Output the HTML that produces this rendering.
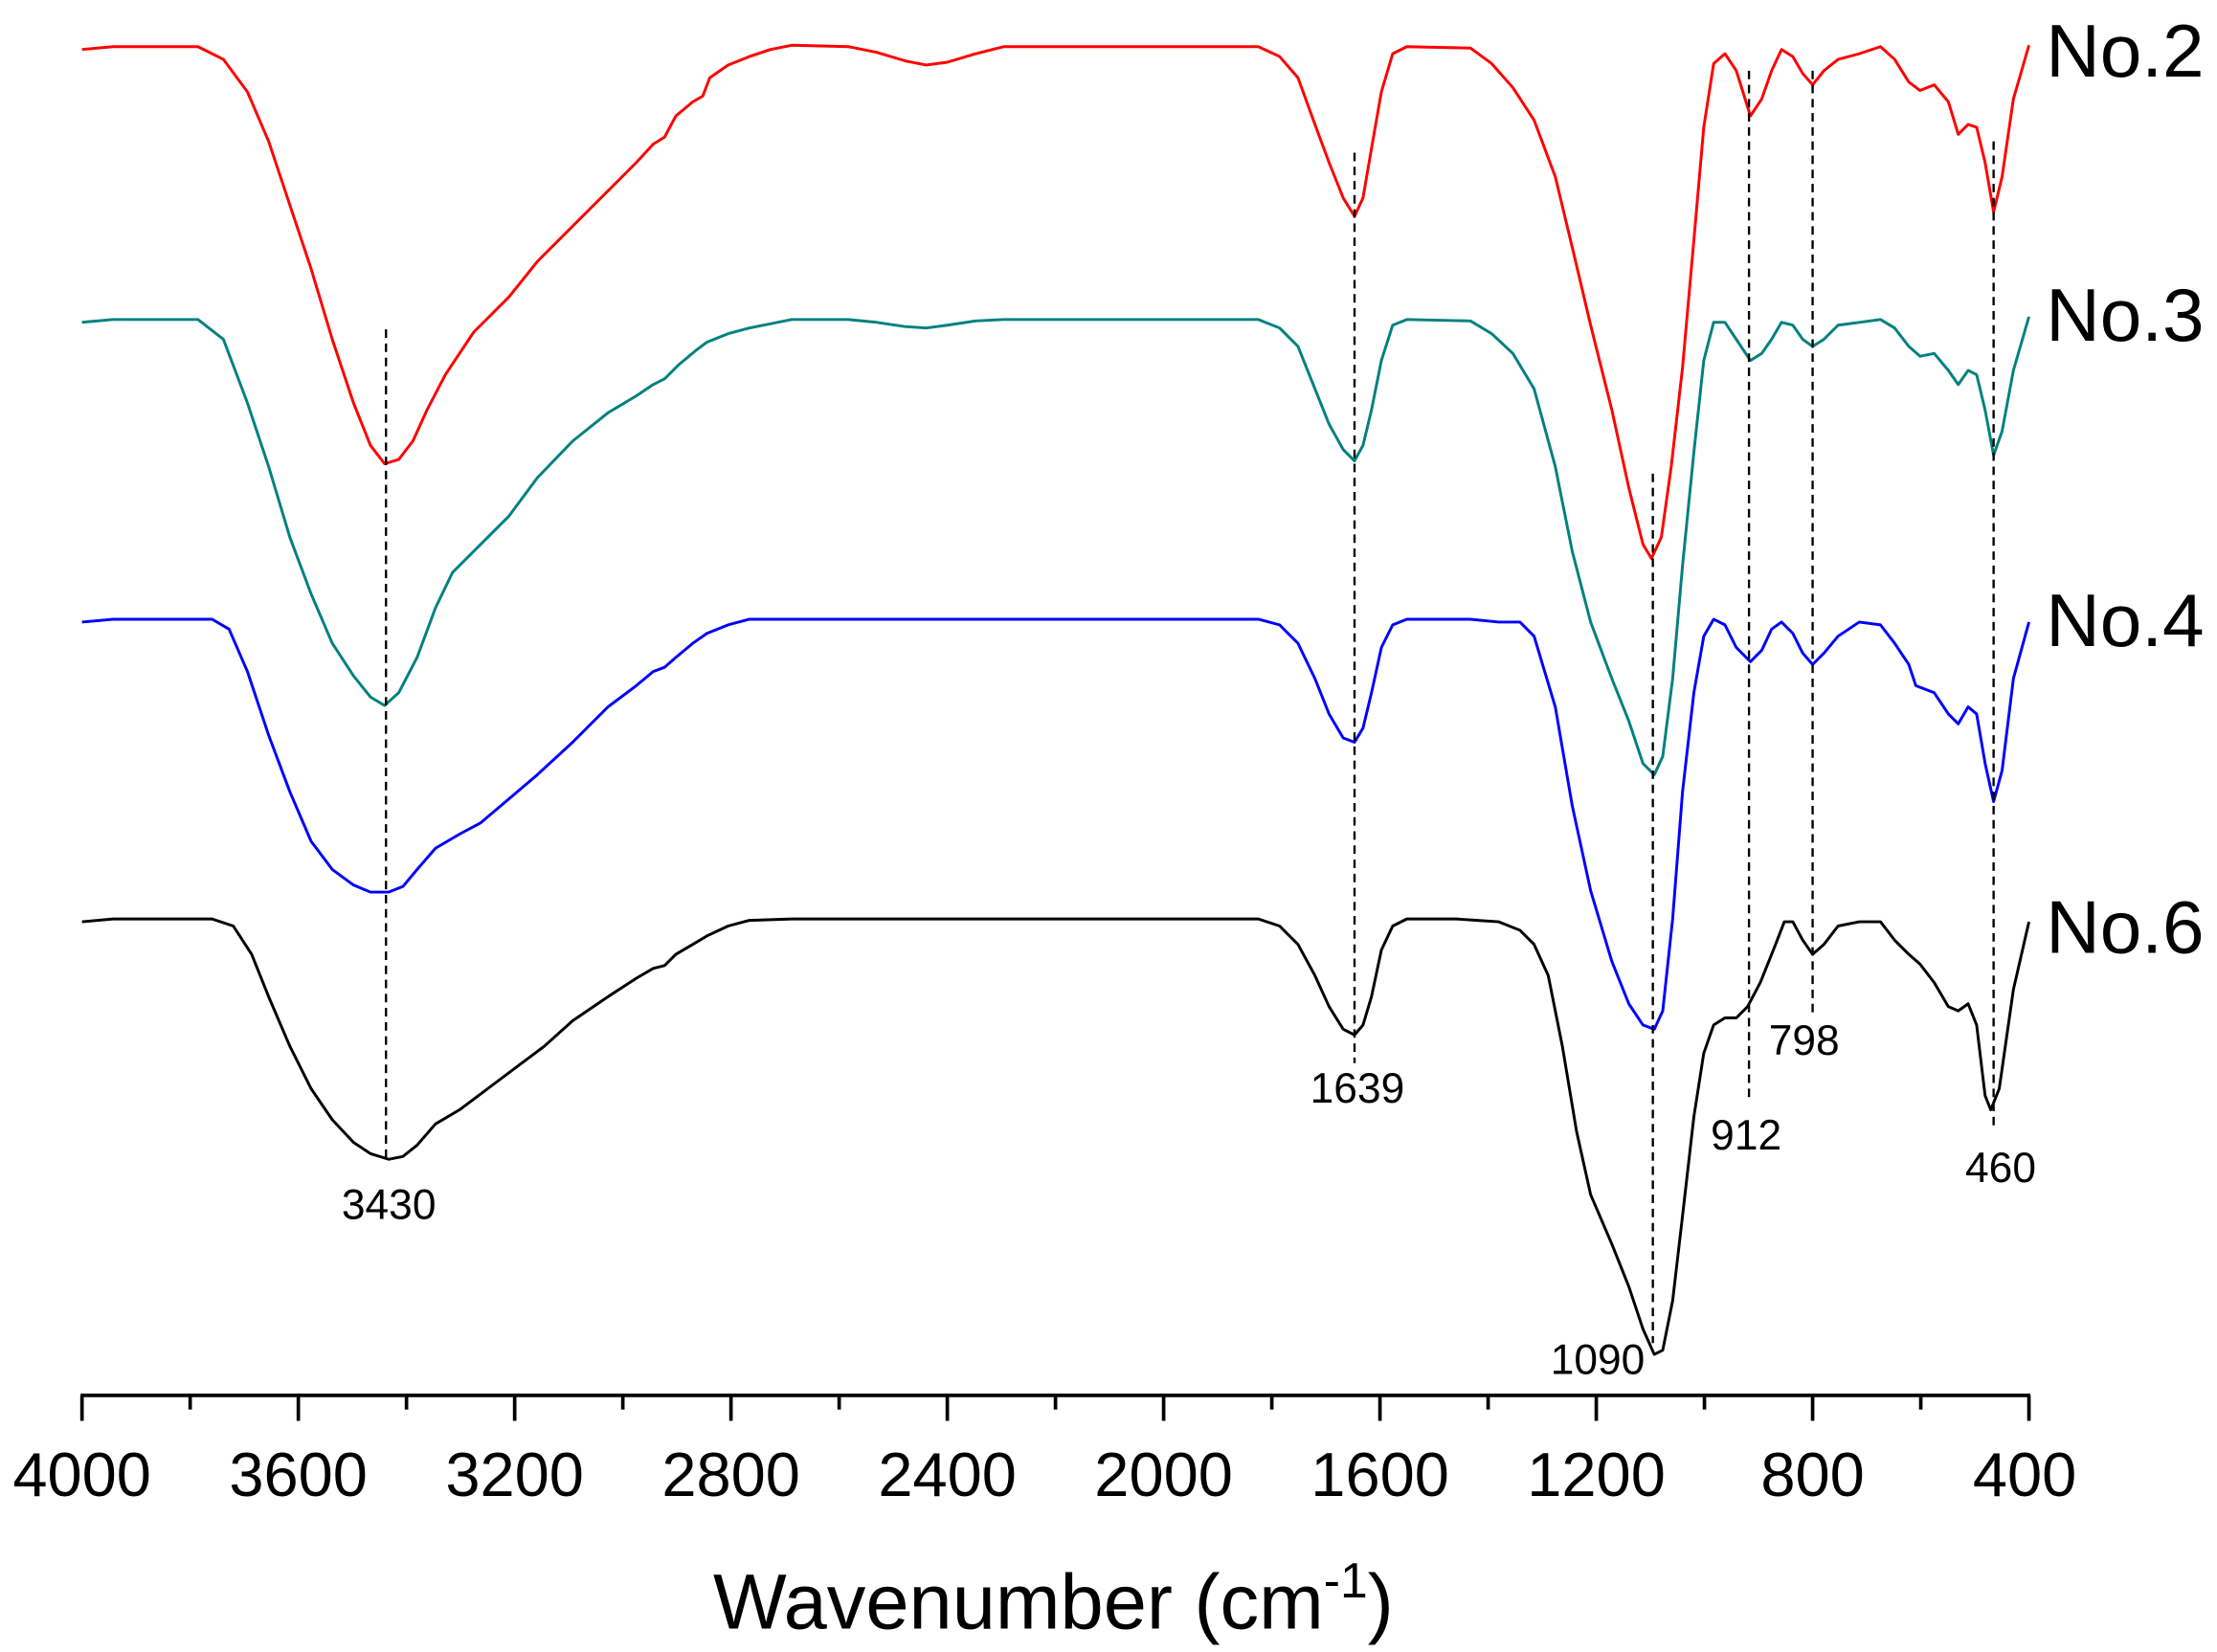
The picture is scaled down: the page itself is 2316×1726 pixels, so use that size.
<!DOCTYPE html>
<html><head><meta charset="utf-8"><style>html,body{margin:0;padding:0;background:#fff}svg{display:block}</style></head>
<body>
<svg width="2316" height="1726" viewBox="0 0 1568 1168.5" preserveAspectRatio="none" xmlns="http://www.w3.org/2000/svg" font-family="Liberation Sans, sans-serif">
<rect width="1568" height="1168.5" fill="#fff"/>
<g fill="none" stroke-width="2" stroke-linejoin="round">
<polyline stroke="#ff0000" points="58,35 80,33 140,33 158,42 175,65 190,100 205,145 220,190 235,240 250,285 262,315 272,328 282,325 292,312 302,290 315,265 335,235 360,210 380,185 405,160 430,135 450,115 462,102 470,97 478,82 490,72 497,68 502,55 515,46 530,40 545,35 560,32 600,33 620,37 640,43 655,46 670,44 690,38 710,33 890,33 905,40 918,55 930,88 940,115 950,140 958,153 964,140 970,105 977,65 985,38 995,33 1040,34 1055,45 1070,62 1085,85 1100,125 1112,175 1125,230 1140,290 1152,345 1162,385 1168,395 1175,380 1182,330 1190,260 1198,170 1205,90 1212,45 1220,38 1228,50 1238,82 1246,70 1253,50 1260,35 1268,40 1275,52 1282,60 1290,50 1300,42 1315,38 1330,33 1340,42 1350,58 1358,64 1368,60 1378,72 1385,95 1392,88 1398,90 1404,115 1410,150 1416,125 1424,70 1435,32"/>
<polyline stroke="#008080" points="58,228 80,226 140,226 158,240 175,285 190,330 205,380 220,420 235,455 250,478 262,493 272,499 282,490 295,465 308,430 320,405 335,390 360,365 380,338 405,312 430,292 450,280 462,272 470,268 480,258 492,248 500,242 515,236 530,232 560,226 600,226 620,228 640,231 655,232 670,230 690,227 710,226 890,226 905,232 918,245 930,275 940,300 950,318 958,326 964,315 970,290 977,255 985,230 995,226 1040,227 1055,236 1070,250 1085,275 1100,330 1112,390 1125,440 1140,480 1152,510 1162,540 1170,548 1176,535 1183,480 1190,400 1198,320 1205,255 1212,228 1220,228 1228,240 1238,255 1246,250 1253,240 1260,228 1268,230 1275,240 1282,245 1290,240 1300,230 1315,228 1330,226 1340,232 1350,245 1358,252 1368,250 1378,262 1385,272 1392,262 1398,265 1404,290 1410,322 1416,305 1424,262 1435,224"/>
<polyline stroke="#0000ff" points="58,440 80,438 150,438 162,445 175,475 190,520 205,560 220,595 235,615 250,626 262,631 275,631 285,627 295,615 308,600 325,590 340,582 360,565 380,548 405,525 430,500 450,485 462,475 470,472 478,465 490,455 500,448 515,442 530,438 560,438 890,438 905,442 918,455 930,480 940,505 950,522 958,525 964,515 970,490 977,458 985,442 995,438 1040,438 1060,440 1075,440 1085,450 1100,500 1112,570 1125,630 1140,680 1152,710 1162,725 1170,728 1176,715 1183,650 1190,560 1198,490 1205,450 1212,438 1220,442 1228,458 1238,468 1246,460 1253,445 1260,440 1268,448 1275,462 1282,470 1290,462 1300,450 1315,440 1330,442 1340,455 1350,470 1355,485 1368,490 1378,505 1385,512 1392,500 1398,505 1404,540 1410,567 1416,545 1424,480 1435,440"/>
<polyline stroke="#000000" points="58,652 80,650 150,650 165,655 178,675 190,705 205,740 220,770 235,792 250,808 262,816 275,820 285,818 295,810 308,795 325,785 345,770 365,755 385,740 405,722 430,705 450,692 462,685 470,683 478,675 490,668 500,662 515,655 530,651 560,650 890,650 905,655 918,668 930,690 940,712 950,728 958,732 964,725 970,705 977,672 985,655 995,650 1030,650 1045,651 1060,652 1075,658 1085,668 1095,690 1105,740 1115,800 1125,845 1140,880 1152,910 1162,940 1170,958 1176,955 1183,920 1190,860 1198,790 1205,745 1212,725 1220,720 1228,720 1236,712 1245,695 1255,670 1262,652 1268,652 1275,665 1282,675 1290,668 1300,655 1315,652 1330,652 1340,665 1350,675 1358,682 1368,695 1378,712 1385,715 1392,710 1398,725 1404,775 1408,785 1414,770 1424,700 1435,652"/>
</g>
<g stroke="#000" stroke-width="1.6" stroke-dasharray="6,4">
<line x1="273" y1="233" x2="273" y2="820"/>
<line x1="958" y1="108" x2="958" y2="752"/>
<line x1="1169" y1="335" x2="1169" y2="950"/>
<line x1="1237" y1="50" x2="1237" y2="780"/>
<line x1="1282" y1="50" x2="1282" y2="720"/>
<line x1="1410" y1="100" x2="1410" y2="800"/>
</g>
<g stroke="#000" stroke-width="2.5">
<line x1="57" y1="987" x2="1436" y2="987"/>
<line x1="58" y1="987" x2="58" y2="1005"/><line x1="211" y1="987" x2="211" y2="1005"/><line x1="364" y1="987" x2="364" y2="1005"/><line x1="517" y1="987" x2="517" y2="1005"/><line x1="670" y1="987" x2="670" y2="1005"/><line x1="823" y1="987" x2="823" y2="1005"/><line x1="976" y1="987" x2="976" y2="1005"/><line x1="1129" y1="987" x2="1129" y2="1005"/><line x1="1282" y1="987" x2="1282" y2="1005"/><line x1="1435" y1="987" x2="1435" y2="1005"/>
<line x1="134.5" y1="987" x2="134.5" y2="997"/><line x1="287.5" y1="987" x2="287.5" y2="997"/><line x1="440.5" y1="987" x2="440.5" y2="997"/><line x1="593.5" y1="987" x2="593.5" y2="997"/><line x1="746.5" y1="987" x2="746.5" y2="997"/><line x1="899.5" y1="987" x2="899.5" y2="997"/><line x1="1052.5" y1="987" x2="1052.5" y2="997"/><line x1="1205.5" y1="987" x2="1205.5" y2="997"/><line x1="1358.5" y1="987" x2="1358.5" y2="997"/>
</g>
<g font-size="44" text-anchor="middle" fill="#000">
<text x="58" y="1058">4000</text><text x="211" y="1058">3600</text><text x="364" y="1058">3200</text><text x="517" y="1058">2800</text><text x="670" y="1058">2400</text><text x="823" y="1058">2000</text><text x="976" y="1058">1600</text><text x="1129" y="1058">1200</text><text x="1282" y="1058">800</text><text x="1432" y="1058">400</text>
</g>
<text x="745" y="1152" font-size="55" text-anchor="middle">Wavenumber (cm<tspan dy="-22" font-size="35">-1</tspan><tspan dy="22">)</tspan></text>
<g font-size="30" text-anchor="middle">
<text x="275" y="862">3430</text><text x="960" y="780">1639</text><text x="1130" y="972">1090</text><text x="1235" y="813">912</text><text x="1276" y="746">798</text><text x="1415" y="836">460</text>
</g>
<g font-size="53">
<text x="1447" y="54">No.2</text><text x="1447" y="241">No.3</text><text x="1447" y="457">No.4</text><text x="1447" y="674">No.6</text>
</g>
</svg>
</body></html>
